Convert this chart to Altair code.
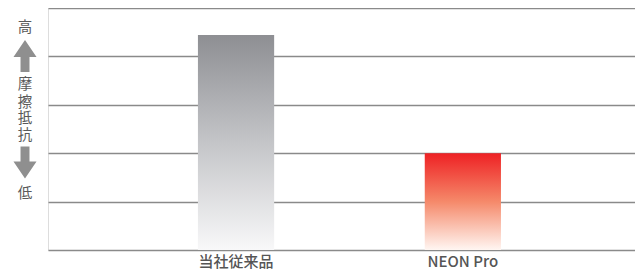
import altair as alt
import pandas as pd

categories = ["当社従来品", "NEON Pro"]
values = [4.44, 2.0]
y_ticks = [0, 1, 2, 3, 4, 5]

df = pd.DataFrame({"cat": categories, "val": values})

FONT = "Noto Sans CJK JP"

xscale = alt.Scale(domain=categories, paddingInner=0.664, paddingOuter=0.626, align=0.528)
yscale = alt.Scale(domain=[0, 5], nice=False)

x_enc = alt.X("cat:N", sort=categories, scale=xscale,
              axis=alt.Axis(title=None, labelAngle=0, ticks=False, domain=False, grid=False,
                            labelFontSize=15, labelColor="#555555", labelFont=FONT,
                            labelFontWeight=500, labelPadding=4))
y_enc = alt.Y("val:Q", scale=yscale,
              axis=alt.Axis(title=None, values=y_ticks, labels=False, ticks=False, domain=False,
                            grid=True, gridColor="#8a8a8a", gridWidth=1.5))

gray_grad = alt.Gradient(gradient="linear", x1=0, x2=0, y1=0, y2=1,
                         stops=[alt.GradientStop(color="#8e8f93", offset=0),
                                alt.GradientStop(color="#c4c5c8", offset=0.5),
                                alt.GradientStop(color="#f8f8f9", offset=1)])
red_grad = alt.Gradient(gradient="linear", x1=0, x2=0, y1=0, y2=1,
                        stops=[alt.GradientStop(color="#ee2124", offset=0),
                               alt.GradientStop(color="#f5896a", offset=0.5),
                               alt.GradientStop(color="#fff6f2", offset=1)])

base = alt.Chart(df)
bar1 = base.mark_bar(color=gray_grad).encode(x=x_enc, y=y_enc).transform_filter(
    alt.datum.cat == categories[0])
bar2 = base.mark_bar(color=red_grad).encode(x=x_enc, y=y_enc).transform_filter(
    alt.datum.cat == categories[1])

lab = alt.Chart(pd.DataFrame({"a": [0]}))
txt_style = dict(font=FONT, fontSize=14.5, color="#5a5a5a", align="center", baseline="middle")
t_high = lab.mark_text(text="高", **txt_style).encode(x=alt.value(-23), y=alt.value(19.5))
t_m1 = lab.mark_text(text="摩", **txt_style).encode(x=alt.value(-23), y=alt.value(77))
t_m2 = lab.mark_text(text="擦", **txt_style).encode(x=alt.value(-23), y=alt.value(94.5))
t_m3 = lab.mark_text(text="抵", **txt_style).encode(x=alt.value(-23), y=alt.value(111))
t_m4 = lab.mark_text(text="抗", **txt_style).encode(x=alt.value(-23), y=alt.value(127.5))
t_low = lab.mark_text(text="低", **txt_style).encode(x=alt.value(-23), y=alt.value(186))

up_path = "M0,-1L0.72,0.06L0.28,0.06L0.28,1L-0.28,1L-0.28,0.06L-0.72,0.06Z"
down_path = "M0,1L0.72,-0.06L0.28,-0.06L0.28,-1L-0.28,-1L-0.28,-0.06L-0.72,-0.06Z"
arr_up = lab.mark_point(shape=up_path, filled=True, size=1024, color="#8f8f8f", opacity=1,
                        strokeWidth=0).encode(x=alt.value(-23), y=alt.value(48))
arr_down = lab.mark_point(shape=down_path, filled=True, size=1024, color="#8f8f8f", opacity=1,
                          strokeWidth=0).encode(x=alt.value(-23), y=alt.value(154.5))

chart = alt.layer(bar1, bar2, t_high, t_m1, t_m2, t_m3, t_m4, t_low, arr_up, arr_down).properties(
    width=587, height=242,
    autosize=alt.AutoSizeParams(type="none"),
    padding={"left": 40, "top": 0, "right": 0, "bottom": 22},
).configure_view(stroke=None).configure(background="white")

chart.save("out.html", embed_options={"renderer": "svg", "actions": False})
